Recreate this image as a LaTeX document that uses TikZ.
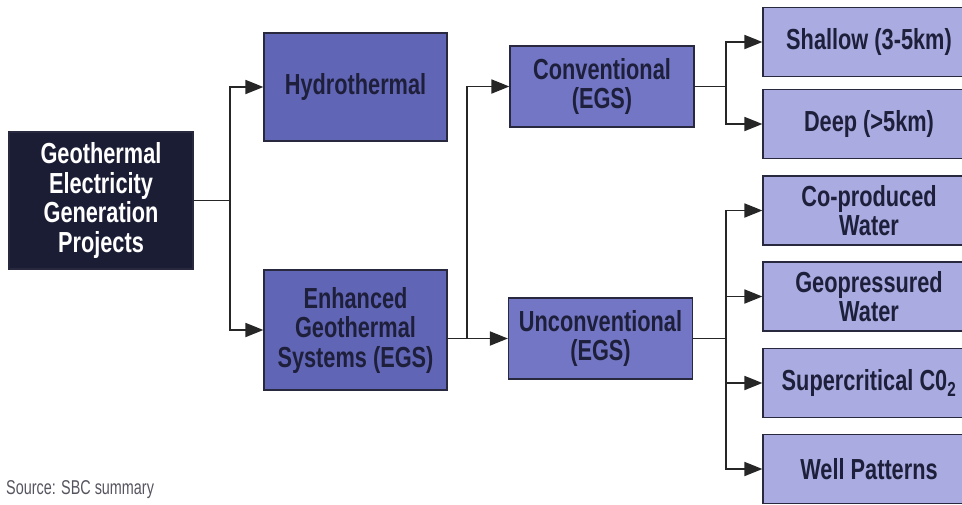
\documentclass[tikz,border=0pt]{standalone}
\usepackage{fontspec}
\setmainfont{Liberation Sans}
\newfontfamily\condfont[FakeStretch=0.75]{Liberation Sans}
\newfontfamily\notefont[FakeStretch=0.72]{Liberation Sans}
\usetikzlibrary{arrows.meta}
\definecolor{rootblock}{RGB}{27, 29, 53}
\definecolor{typeblock}{RGB}{97, 101, 181}
\definecolor{subblock}{RGB}{114, 118, 196}
\definecolor{leafblock}{RGB}{170, 172, 225}
\definecolor{boxline}{RGB}{40, 40, 62}
\definecolor{boxtext}{RGB}{30, 31, 58}
\definecolor{notetext}{RGB}{85, 85, 95}

\tikzset{
	box/.style={draw=boxline, line width=1.2pt, align=center, inner sep=0pt,
		font=\condfont\bfseries\fontsize{29}{29.5}\selectfont, text=boxtext},
	rootbox/.style={box, fill=rootblock, text=white, minimum width=184pt, minimum height=137pt},
	typebox/.style={box, fill=typeblock, minimum width=183pt},
	subbox/.style={box, fill=subblock, minimum width=184pt, minimum height=81pt},
	leafbox/.style={box, fill=leafblock, minimum width=212pt, minimum height=69pt},
	link/.style={line width=1.8pt, draw=black!85},
	linkarrow/.style={link, -{Triangle[length=18pt, width=14pt]}}
}

\begin{document}
\begin{tikzpicture}[x=1pt, y=-1pt]
		\useasboundingbox (0,0) rectangle (962,504);
		\clip (0,0) rectangle (962,504);

		% first level
		\node[rootbox] (root) at (101,200.5) {Geothermal\\Electricity\\Generation\\Projects};

		% second level
		\node[typebox, minimum height=108pt] (hydro) at (355.5,87) {Hydrothermal};
		\node[typebox, minimum height=120pt] (egs) at (355.5,330) {Enhanced\\Geothermal\\Systems (EGS)};

		% third level
		\node[subbox] (conv) at (602,86.5) {Conventional\\(EGS)};
		\node[subbox] (unconv) at (600.5,338.5) {Unconventional\\(EGS)};

		% leaves
		\node[leafbox] (shallow) at (869,42) {Shallow (3-5km)};
		\node[leafbox] (deep) at (869,124) {Deep (>5km)};
		\node[leafbox] (coprod) at (869,210.5) {Co-produced\\Water};
		\node[leafbox] (geopress) at (869,296.5) {Geopressured\\Water};
		\node[leafbox] (supercrit) at (869,383) {Supercritical C0\textsubscript{2}};
		\node[leafbox] (wells) at (869,469) {Well Patterns};

		% source line
		\node[anchor=west, inner sep=0pt, text=notetext, font=\notefont\fontsize{20}{20}\selectfont] (source) at (6,490) {Source: SBC summary};

		% branch points
		\coordinate (rootfork) at (230,200.5);
		\coordinate (egsfork) at (467,338.5);
		\coordinate (convfork) at (726,86.5);
		\coordinate (unconvfork) at (726,338.5);

		\draw[link] (root.east) -- (rootfork);
		\draw[linkarrow] (rootfork) |- (hydro.west);
		\draw[linkarrow] (rootfork) |- (egs.west);

		\draw[linkarrow] (egs.east |- unconv.west) -- (unconv.west);
		\draw[linkarrow] (egsfork) |- (conv.west);

		\draw[link] (conv.east) -- (convfork);
		\draw[linkarrow] (convfork) |- (shallow.west);
		\draw[linkarrow] (convfork) |- (deep.west);

		\draw[link] (unconv.east) -- (unconvfork);
		\foreach \leaf in {coprod, geopress, supercrit, wells}
			\draw[linkarrow] (unconvfork) |- (\leaf.west);
	\end{tikzpicture}
\end{document}
